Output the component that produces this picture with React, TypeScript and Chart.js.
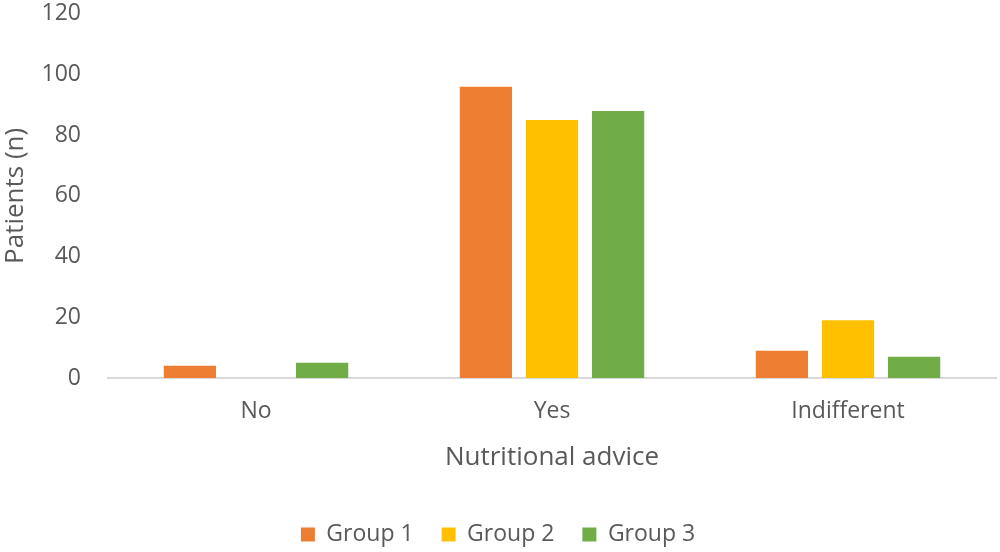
import { useEffect, useRef } from "react";
import { Chart, registerables } from "chart.js";

Chart.register(...registerables);

const categories = ["No", "Yes", "Indifferent"];
const group1 = [4, 96, 9];
const group2 = [0, 85, 19];
const group3 = [5, 88, 7];
const yTicks = [0, 20, 40, 60, 80, 100, 120];

const FONT = "'Open Sans', 'Noto Sans', sans-serif";
const TEXT = "#595959";

export default function App() {
  const ref = useRef<HTMLCanvasElement>(null);

  useEffect(() => {
    document.body.style.margin = "0";
    const chart = new Chart(ref.current!, {
      type: "bar",
      data: {
        labels: categories,
        datasets: [
          { label: "Group 1", data: group1, backgroundColor: "#ED7D31" },
          { label: "Group 2", data: group2, backgroundColor: "#FFC000" },
          { label: "Group 3", data: group3, backgroundColor: "#70AD47" },
        ],
      },
      options: {
        animation: false,
        responsive: false,
        categoryPercentage: 0.67,
        barPercentage: 0.79,
        layout: { padding: { top: 0, right: 4, bottom: -4, left: 0 } },
        plugins: {
          tooltip: { enabled: false },
          legend: {
            position: "bottom",
            labels: {
              color: TEXT,
              font: { family: FONT, size: 23 },
              boxWidth: 14,
              boxHeight: 14,
              padding: 28,
            },
          },
        },
        scales: {
          x: {
            grid: { display: false, drawTicks: false },
            border: { display: true, color: "#D9D9D9", width: 2 },
            ticks: { color: TEXT, font: { family: FONT, size: 23 }, padding: 20 },
            title: { display: true, text: "Nutritional advice", color: TEXT, font: { family: FONT, size: 26 }, padding: { top: 0, bottom: 22 } },
            afterFit: (s: any) => { s.height = 117; },
          },
          y: {
            min: 0,
            max: 120,
            afterBuildTicks: (s: any) => { s.ticks = yTicks.map((v) => ({ value: v })); },
            grid: { display: false, drawTicks: true, tickLength: 27 },
            border: { display: false },
            ticks: { color: TEXT, font: { family: FONT, size: 23 }, padding: 0 },
            title: { display: true, text: "Patients (n)", color: TEXT, font: { family: FONT, size: 26 }, padding: { top: 0, bottom: 0 } },
            afterFit: (s: any) => { s.width = 108; },
          },
        },
      },
    });
    return () => chart.destroy();
  }, []);

  return <canvas ref={ref} width={1000} height={552} style={{ display: "block" }} />;
}
